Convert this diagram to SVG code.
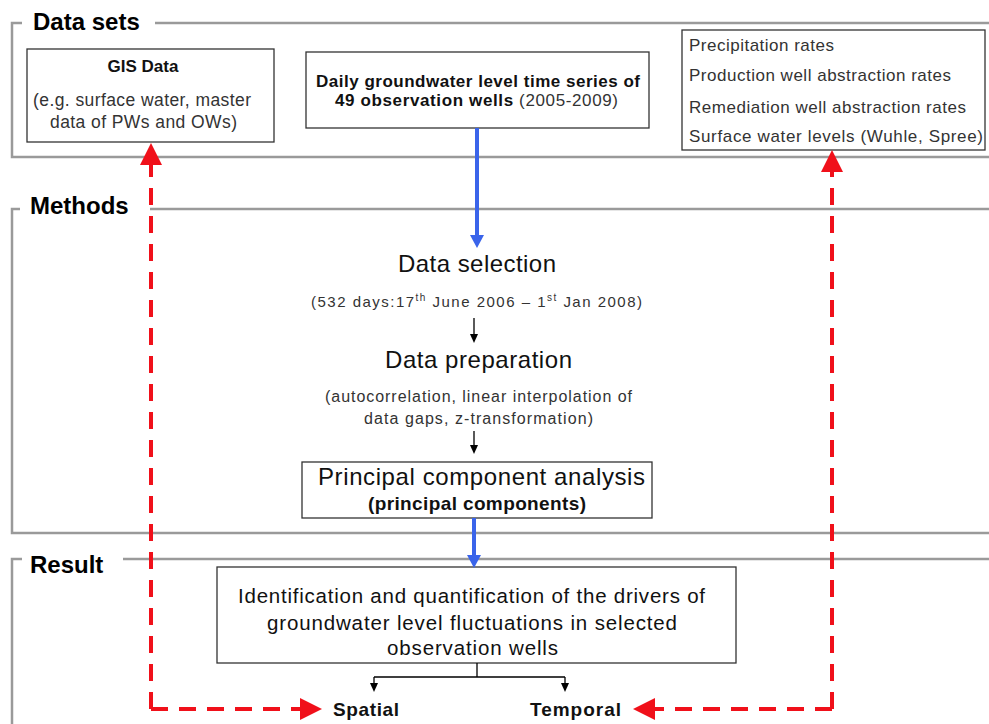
<svg xmlns="http://www.w3.org/2000/svg" width="989" height="724" viewBox="0 0 989 724">
<defs>
<style>
text{font-family:"Liberation Sans",Arial,sans-serif;fill:#111}
.title{font-size:24px;font-weight:bold;fill:#000}
.bold{font-weight:bold}
.sub{fill:#333}
.frame{fill:none;stroke:#9a9a9a;stroke-width:2.5}
.box{fill:#fff;stroke:#333;stroke-width:1.3}
.blue{stroke:#3a64ea;stroke-width:4;fill:none}
.black{stroke:#000;stroke-width:1.3;fill:none}
.red{stroke:#f0101a;stroke-width:4;fill:none;stroke-dasharray:17 11}
</style>
<marker id="mBlue" markerUnits="userSpaceOnUse" markerWidth="14" markerHeight="14" refX="0" refY="7" orient="auto" viewBox="0 0 14 14">
<path d="M0,0 L13,7 L0,14 z" fill="#3a64ea"/>
</marker>
<marker id="mBlack" markerUnits="userSpaceOnUse" markerWidth="9" markerHeight="8" refX="0" refY="4" orient="auto" viewBox="0 0 9 8">
<path d="M0,0 L9,4 L0,8 z" fill="#000"/>
</marker>
<marker id="mRed" markerUnits="userSpaceOnUse" markerWidth="23" markerHeight="22" refX="0" refY="11" orient="auto" viewBox="0 0 23 22">
<path d="M0,0 L22,11 L0,22 z" fill="#f0101a"/>
</marker>
</defs>
<rect width="989" height="724" fill="#fff"/>

<g id="frames">
<path class="frame" d="M22,23 H12 V157 H989 M155,23 H989"/>
<path class="frame" d="M20,209 H12 V533 H989 M150,209 H989"/>
<path class="frame" d="M22,559 H12 V724 M123,559 H989"/>
<text class="title" x="33" y="30">Data sets</text>
<text class="title" x="30" y="214">Methods</text>
<text class="title" x="30" y="573">Result</text>
</g>

<g id="gis">
<rect class="box" x="27" y="49" width="247" height="93"/>
<text class="bold" x="143" y="72" font-size="17" text-anchor="middle">GIS Data</text>
<text class="sub" x="33" y="106" font-size="17.5" textLength="218" lengthAdjust="spacing">(e.g. surface water, master</text>
<text class="sub" x="50" y="128" font-size="17.5" textLength="187" lengthAdjust="spacing">data of PWs and OWs)</text>
</g>

<g id="daily">
<rect class="box" x="306" y="52" width="343" height="76"/>
<text class="bold" x="316" y="87" font-size="17" textLength="324" lengthAdjust="spacing">Daily groundwater level time series of</text>
<text x="335" y="106" font-size="17" textLength="283" lengthAdjust="spacing"><tspan class="bold">49 observation wells </tspan><tspan class="sub">(2005-2009)</tspan></text>
</g>

<g id="drivers-data">
<rect class="box" x="682" y="30" width="303" height="120"/>
<text class="sub" x="689" y="51" font-size="17" textLength="145" lengthAdjust="spacing">Precipitation rates</text>
<text class="sub" x="689" y="81" font-size="17" textLength="262" lengthAdjust="spacing">Production well abstraction rates</text>
<text class="sub" x="689" y="113" font-size="17" textLength="277" lengthAdjust="spacing">Remediation well abstraction rates</text>
<text class="sub" x="689" y="142" font-size="17" textLength="294" lengthAdjust="spacing">Surface water levels (Wuhle, Spree)</text>
</g>

<g id="selection">
<text x="398" y="272" font-size="24" textLength="158" lengthAdjust="spacing">Data selection</text>
<text class="sub" x="311" y="307" font-size="15" textLength="331" lengthAdjust="spacing">(532 days:17<tspan font-size="10" dy="-6">th</tspan><tspan dy="6"> June 2006 – 1</tspan><tspan font-size="10" dy="-6">st</tspan><tspan dy="6"> Jan 2008)</tspan></text>
</g>

<g id="preparation">
<text x="385" y="368" font-size="24" textLength="187" lengthAdjust="spacing">Data preparation</text>
<text class="sub" x="325" y="402" font-size="16" textLength="307" lengthAdjust="spacing">(autocorrelation, linear interpolation of</text>
<text class="sub" x="364" y="424" font-size="16" textLength="229" lengthAdjust="spacing">data gaps, z-transformation)</text>
</g>

<g id="pca">
<rect class="box" x="302" y="462" width="350" height="56"/>
<text x="318" y="485" font-size="24" textLength="327" lengthAdjust="spacing">Principal component analysis</text>
<text class="bold" x="368" y="510" font-size="19" textLength="218" lengthAdjust="spacing">(principal components)</text>
</g>

<g id="result">
<rect class="box" x="217" y="567" width="519" height="96"/>
<text x="238" y="603" font-size="20.5" textLength="467" lengthAdjust="spacing">Identification and quantification of the drivers of</text>
<text x="267" y="630" font-size="20.5" textLength="410" lengthAdjust="spacing">groundwater level fluctuations in selected</text>
<text x="387" y="655" font-size="20.5" textLength="171" lengthAdjust="spacing">observation wells</text>
</g>

<g id="spatial">
<text class="bold" x="333" y="716" font-size="19" textLength="66" lengthAdjust="spacing">Spatial</text>
</g>
<g id="temporal">
<text class="bold" x="530" y="716" font-size="19" textLength="91" lengthAdjust="spacing">Temporal</text>
</g>

<g id="connectors">
<path class="blue" d="M477,128 V235" marker-end="url(#mBlue)"/>
<path class="blue" d="M474,518 V555" marker-end="url(#mBlue)"/>
<path class="black" d="M474,318 V334" marker-end="url(#mBlack)"/>
<path class="black" d="M474,431 V445" marker-end="url(#mBlack)"/>
<path class="black" d="M477,663 V677 M374,677 H565"/>
<path class="black" d="M374,677 V683" marker-end="url(#mBlack)"/>
<path class="black" d="M565,677 V683" marker-end="url(#mBlack)"/>
<path class="red" d="M151,709 V165" marker-end="url(#mRed)"/>
<path class="red" d="M151,709 H300" marker-end="url(#mRed)"/>
<path class="red" d="M832,709 V172" marker-end="url(#mRed)"/>
<path class="red" d="M832,709 H655" marker-end="url(#mRed)"/>
</g>
</svg>
